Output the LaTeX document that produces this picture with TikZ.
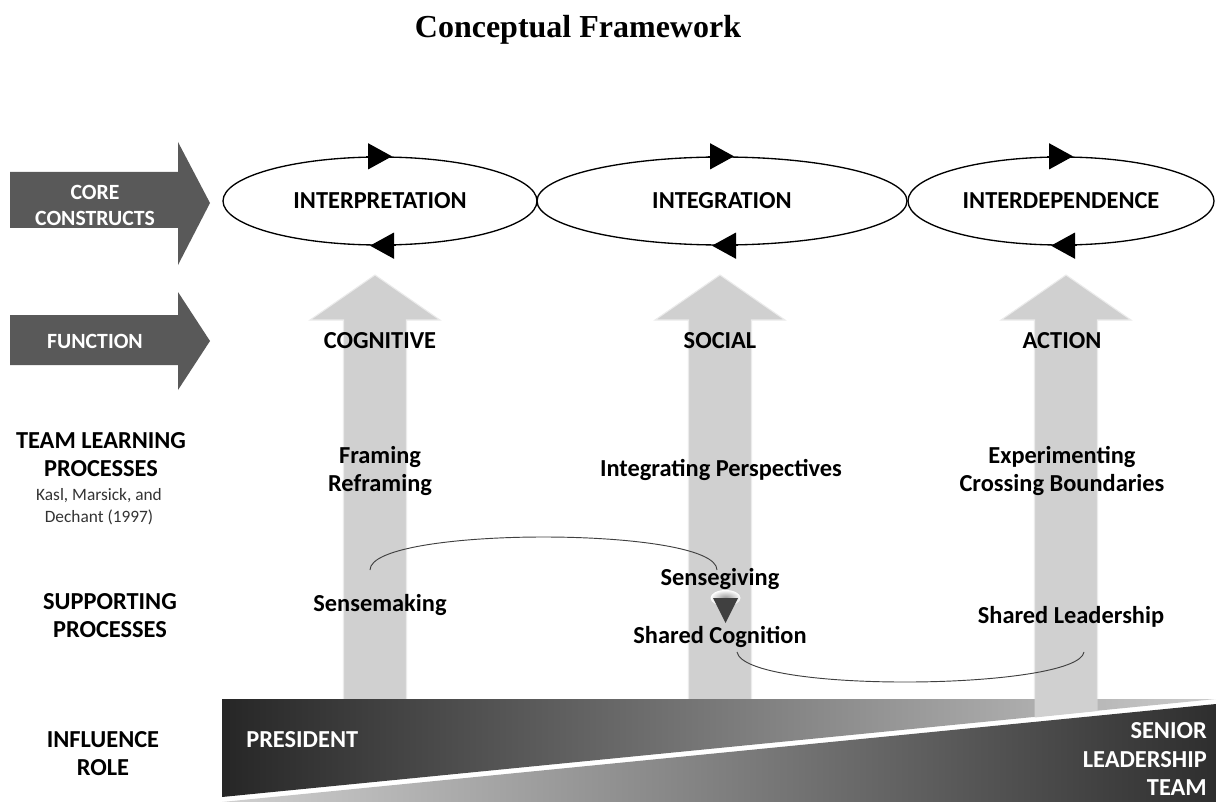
\documentclass[tikz,border=0pt]{standalone}
\usepackage{fontspec}
\setmainfont{Carlito}
\newfontfamily\titlefont{Liberation Serif}
\usepackage{xcolor}
\usepackage{tikz}
\usetikzlibrary{calc}
\usetikzlibrary{arrows.meta}
\usetikzlibrary{shapes.geometric}
\usetikzlibrary{positioning}
\definecolor{sidegray}{HTML}{595959}
\definecolor{liftgray}{HTML}{D0D0D0}
\definecolor{curvegray}{HTML}{404040}
\definecolor{citegray}{HTML}{333333}
\tikzset{>=latex}
\tikzset{
  construct/.style = {ellipse, draw=black, line width=1pt, minimum height=66pt, inner sep=0pt,
                      font=\bfseries\fontsize{18.3}{21}\selectfont},
  rowlabel/.style  = {draw=none, align=center, inner sep=0pt, font=\bfseries\fontsize{18.3}{21}\selectfont},
  sidelabel/.style = {draw=none, align=center, inner sep=0pt, text=white, font=\bfseries\fontsize{16.3}{19.5}\selectfont},
  cite/.style      = {draw=none, align=center, inner sep=0pt, text=citegray, font=\fontsize{13}{16.5}\selectfont},
  cycle/.style     = {line width=1pt, -{Triangle[length=18pt, width=19.5pt]}},
  liftarrow/.style = {fill=liftgray, draw=white!92!black, line width=0.8pt},
  linkcurve/.style = {draw=curvegray, line width=0.7pt}
}

\begin{document}
\begin{tikzpicture}[x=0.75pt, y=-0.75pt]
\useasboundingbox (0,0) rectangle (1216,802);

\node [draw=none, font=\titlefont\bfseries\fontsize{24}{28}\selectfont] (title) at (578, 30) {Conceptual Framework};

% side arrows
\fill [sidegray] (10,172) -- (178,172) -- (178,142) -- (210,203) -- (178,265) -- (178,228) -- (10,228) -- cycle;
\fill [sidegray] (10,315) -- (178,315) -- (178,292) -- (210,341) -- (178,390) -- (178,365) -- (10,365) -- cycle;
\node [sidelabel] (core) at (95, 205) {CORE\\CONSTRUCTS};
\node [sidelabel] (func) at (95, 341) {FUNCTION};

% big upward arrows
\foreach \cx in {375, 720, 1066} {
  \filldraw [liftarrow] (\cx-31.5,705) -- (\cx-31.5,320) -- (\cx-65,320) -- (\cx,275)
    -- (\cx+65,320) -- (\cx+31.5,320) -- (\cx+31.5,705) -- cycle;
}

% core constructs
\node [construct, minimum width=235.5pt] (interp) at (380, 201) {INTERPRETATION};
\node [construct, minimum width=277.5pt] (integ)  at (722, 201) {INTEGRATION};
\node [construct, minimum width=229.5pt] (interd) at (1061, 201) {INTERDEPENDENCE};
\foreach \e in {interp, integ, interd} {
  \draw [cycle] ($(\e.north)+(-14,0)$) -- ($(\e.north)+(12,0)$);
  \draw [cycle] ($(\e.south)+(16,0)$) -- ($(\e.south)+(-10,0)$);
}

% functions
\node [rowlabel] (cog) at (380, 341) {COGNITIVE};
\node [rowlabel] (soc) at (720, 341) {SOCIAL};
\node [rowlabel] (act) at (1062, 341) {ACTION};

% team learning processes
\node [rowlabel] (frame) at (380, 471) {Framing\\Reframing};
\node [rowlabel] (persp) at (721, 470) {Integrating Perspectives};
\node [rowlabel] (exper) at (1062, 471) {Experimenting\\Crossing Boundaries};

% supporting processes
\node [rowlabel] (smk) at (380, 605) {Sensemaking};
\node [rowlabel] (sgv) at (720, 579) {Sensegiving};
\node [rowlabel] (shcog) at (720, 637) {Shared Cognition};
\node [rowlabel] (shlead) at (1071, 617) {Shared Leadership};
\shade [inner color=curvegray!55, outer color=white] (725.5,598) ellipse [x radius=15, y radius=8];
\fill [curvegray] (713,598) -- (738,598) -- (725.5,623) -- cycle;

\coordinate (smkTop) at (370, 570);
\coordinate (sgvTop) at (717, 570);
\coordinate (cogEnd) at (737, 652);
\coordinate (leadEnd) at (1084, 652);
\draw [linkcurve] (smkTop) .. controls (370,526) and (717,526) .. (sgvTop);
\draw [linkcurve] (cogEnd) .. controls (745,694) and (1078,690) .. (leadEnd);

% influence band
\shade [left color=black!85, right color=black!20] (222,699) -- (1216,699) -- (222,797) -- cycle;
\shade [left color=black!18, right color=black!82] (222,802) -- (1216,704) -- (1216,802) -- cycle;
\fill [liftgray] (1034.5,699) -- (1097.5,699) -- (1097.5,711) -- (1034.5,717.5) -- cycle;
\node [rowlabel, text=white, anchor=west] (pres) at (246, 740) {PRESIDENT};
\node [rowlabel, text=white, align=right, anchor=east, font=\bfseries\fontsize{18.3}{21.5}\selectfont] (slt) at (1207, 759) {SENIOR\\LEADERSHIP\\TEAM};

% row labels
\node [rowlabel] (tlp) at (101, 455) {TEAM LEARNING\\PROCESSES};
\node [cite] (kasl) at (99, 507) {Kasl, Marsick, and\\Dechant (1997)};
\node [rowlabel] (supp) at (110, 616) {SUPPORTING\\PROCESSES};
\node [rowlabel] (infl) at (103, 754) {INFLUENCE\\ROLE};
\end{tikzpicture}
\end{document}
